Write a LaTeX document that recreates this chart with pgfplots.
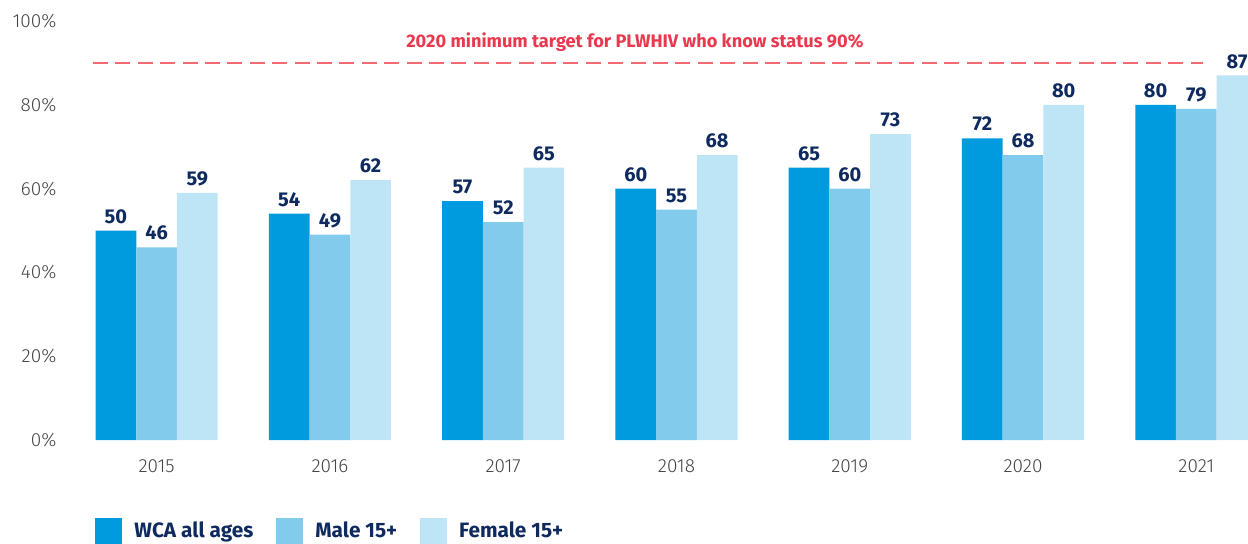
\documentclass[border=0pt]{standalone}
\usepackage{fontspec}
\setmainfont{Fira Sans}
\newfontfamily\lightfont{Fira Sans Light}
\usepackage{pgfplots}
\usepackage{pgfplotstable}
\pgfplotsset{compat=1.18}
\definecolor{cA}{HTML}{009ADE}
\definecolor{cB}{HTML}{82CBED}
\definecolor{cC}{HTML}{BEE5F6}
\definecolor{navy}{HTML}{0E2A5E}
\definecolor{tred}{HTML}{E8394F}
\definecolor{lred}{HTML}{F26B73}
\definecolor{tgray}{HTML}{444444}

\pgfplotstableread{
x a b c
0 50 46 59
1 54 49 62
2 57 52 65
3 60 55 68
4 65 60 73
5 72 68 80
6 80 79 87
}\datatable

\begin{document}
\begin{tikzpicture}
\begin{axis}[name=ax, at={(0,0)}, anchor=south west, scale only axis,
  width=590pt, height=209.5pt,
  xmin=-0.5, xmax=6.31, ymin=0, ymax=100,
  xtick={0,1,2,3,4,5,6},
  xticklabels={2015,2016,2017,2018,2019,2020,2021},
  ytick={0,20,40,60,80,100},
  yticklabel={\pgfmathprintnumber{\tick}\%},
  axis line style={draw=none}, major tick length=0pt,
  tick label style={font=\lightfont\fontsize{9.5}{11}\selectfont, text=tgray},
  yticklabel style={xshift=-3.3pt},
  xticklabel style={yshift=-6.5pt},
  /pgf/number format/assume math mode=true,
  clip=false,
  bar width=20.35pt,
  every node near coord/.append style={font=\bfseries\fontsize{10}{12}\selectfont, text=navy},
  legend columns=3,
  legend style={draw=none, fill=none, at={(axis description cs:0,0)}, anchor=west,
    xshift=12.5pt, yshift=-45.5pt, inner sep=0pt,
    font=\bfseries\fontsize{10.4}{12.5}\selectfont, text=navy,
    /tikz/every even column/.append style={column sep=9.5pt},
    /tikz/every odd column/.append style={column sep=4pt}},
]
\addplot[forget plot, lred, line width=0.8pt, dash pattern=on 7.5pt off 3.7pt]
  coordinates {(-0.367,90) (6.04,90)};
\addplot[ybar, bar shift=-20.35pt, fill=cA, draw=none, nodes near coords,
  nodes near coords style={xshift=-20.35pt},
  legend image code/.code={\fill[cA] (0pt,-6.75pt) rectangle (13.5pt,6.75pt);}]
  table[x=x,y=a]{\datatable};
\addplot[ybar, bar shift=0pt, fill=cB, draw=none, nodes near coords,
  legend image code/.code={\fill[cB] (0pt,-6.75pt) rectangle (13.5pt,6.75pt);}]
  table[x=x,y=b]{\datatable};
\addplot[ybar, bar shift=20.35pt, fill=cC, draw=none, nodes near coords,
  nodes near coords style={xshift=20.35pt},
  legend image code/.code={\fill[cC] (0pt,-6.75pt) rectangle (13.5pt,6.75pt);}]
  table[x=x,y=c]{\datatable};
\legend{WCA all ages, Male 15+, Female 15+}
\node[font=\bfseries\fontsize{9.1}{11}\selectfont, text=tred] at (axis cs:2.76,95)
  {2020 minimum target for PLWHIV who know status 90\%};
\end{axis}
\pgfresetboundingbox
\path (ax.south west) ++(-35pt,-51.5pt) rectangle ++(624pt,271.5pt);
\end{tikzpicture}
\end{document}
